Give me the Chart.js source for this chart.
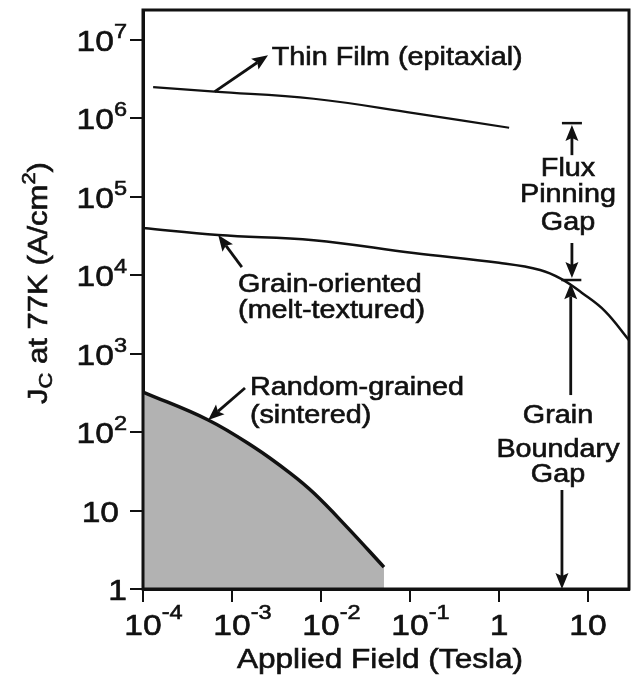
<!DOCTYPE html>
<html>
<head>
<meta charset="utf-8">
<script src="https://cdn.jsdelivr.net/npm/chart.js@4.4.0/dist/chart.umd.min.js"></script>
<style>
  html, body { margin: 0; background: #fff; }
  canvas { display: block; }
</style>
</head>
<body>
<canvas id="jcChart" width="634" height="683"></canvas>
<script>
// applied field (T) / critical current density (A/cm^2)
const thinFilmB = [1.3e-4, 6.4e-4, 8.3e-3, 0.11, 1.3];
const thinFilmJc = [2.5e6, 2.2e6, 1.78e6, 1.17e6, 7.6e5];

const grainOrientedB = [1e-4, 7e-4, 8.3e-3, 0.11, 1.0, 2.9, 5.0, 8.5, 15.5, 28.9];
const grainOrientedJc = [4.0e4, 3.25e4, 2.8e4, 1.92e4, 1.44e4, 1.17e4, 9.0e3, 6.0e3, 3.5e3, 1.49e3];

const randomB = [1e-4, 5.4e-4, 1.74e-3, 4.5e-3, 8.3e-3, 0.0195, 0.051];
const randomJc = [325, 143, 65, 30, 16.7, 6.2, 1.9];

// axis ticks: [base, exponent]
const xTicks = [1e-4, 1e-3, 1e-2, 1e-1, 1, 10];
const xTickLabels = [['10', '-4'], ['10', '-3'], ['10', '-2'], ['10', '-1'], ['1', ''], ['10', '']];
const yTicks = [1, 10, 1e2, 1e3, 1e4, 1e5, 1e6, 1e7];
const yTickLabels = [['1', ''], ['10', ''], ['10', '2'], ['10', '3'], ['10', '4'], ['10', '5'], ['10', '6'], ['10', '7']];

// annotations, in data units [field, Jc]
const arrows = [
  [[6.4e-4, 2.2e6], [2.54e-3, 6.4e6]],
  [[1.29e-3, 1.27e4], [7e-4, 3.25e4]],
  [[1.4e-3, 366], [5.4e-4, 143]],
  [[6.6, 3.4e5], [6.6, 8.25e5]],
  [[6.6, 2.58e4], [6.6, 9.2e3]],
  [[6.4, 297], [6.4, 7.9e3]],
  [[5.1, 18.3], [5.1, 1]]
];
const gapBars = [[6.6, 8.7e5], [6.5, 8.7e3]];
const notes = [
  ['Thin Film (epitaxial)', 2.8e-3, 4.8e6, 'left'],
  ['Grain-oriented', 1.17e-3, 6.1e3, 'left'],
  ['(melt-textured)', 1.17e-3, 2.85e3, 'left'],
  ['Random-grained', 1.59e-3, 298, 'left'],
  ['(sintered)', 1.59e-3, 131, 'left'],
  ['Flux', 5.96, 1.85e5, 'center'],
  ['Pinning', 5.96, 8.6e4, 'center'],
  ['Gap', 5.96, 3.8e4, 'center'],
  ['Grain', 4.6, 131, 'center'],
  ['Boundary', 4.6, 48, 'center'],
  ['Gap', 4.6, 23, 'center']
];

const FONT = '"Liberation Sans", Arial, Helvetica, sans-serif';
const INK = '#111';

const pts = (xs, ys) => xs.map((x, i) => ({ x: x, y: ys[i] }));

// draws [text, size, dy] pieces on one baseline, stretched a little sideways like the scan
function richText(ctx, parts, x, y, align, sx) {
  let total = 0;
  const widths = parts.map(p => {
    ctx.font = p[1] + 'px ' + FONT;
    const w = ctx.measureText(p[0]).width * sx;
    total += w;
    return w;
  });
  let cx = align === 'center' ? x - total / 2 : align === 'right' ? x - total : x;
  parts.forEach((p, i) => {
    ctx.save();
    ctx.font = p[1] + 'px ' + FONT;
    ctx.translate(cx, y + (p[2] || 0));
    ctx.scale(sx, 1);
    ctx.lineWidth = 0.6;
    ctx.fillText(p[0], 0, 0);
    ctx.strokeText(p[0], 0, 0);
    ctx.restore();
    cx += widths[i];
  });
}

function arrow(ctx, x1, y1, x2, y2) {
  const a = Math.atan2(y2 - y1, x2 - x1);
  const len = 16, half = 6.5;
  const bx = x2 - len * Math.cos(a), by = y2 - len * Math.sin(a);
  ctx.beginPath();
  ctx.moveTo(x1, y1);
  ctx.lineTo(bx + 3 * Math.cos(a), by + 3 * Math.sin(a));
  ctx.stroke();
  ctx.beginPath();
  ctx.moveTo(x2, y2);
  ctx.lineTo(bx + half * Math.sin(a), by - half * Math.cos(a));
  ctx.lineTo(bx + 3 * Math.cos(a), by + 3 * Math.sin(a));
  ctx.lineTo(bx - half * Math.sin(a), by + half * Math.cos(a));
  ctx.closePath();
  ctx.fill();
}

const decorations = {
  id: 'decorations',
  afterDraw(chart) {
    const { ctx, chartArea: area, scales: { x, y } } = chart;
    ctx.save();
    ctx.fillStyle = INK;
    ctx.strokeStyle = INK;
    ctx.textBaseline = 'alphabetic';

    // box round the plot
    ctx.lineWidth = 3;
    ctx.strokeRect(area.left, area.top, area.right - area.left, area.bottom - area.top);

    // tick labels with superscripts
    xTicks.forEach((v, i) => {
      const px = x.getPixelForValue(v);
      const [base, exp] = xTickLabels[i];
      ctx.font = '30px ' + FONT;
      const bw = ctx.measureText(base).width * 1.12;
      richText(ctx, [[base, 30, 0], [exp, 21, -16]], px - bw / 2, 635, 'left', 1.12);
    });
    yTicks.forEach((v, i) => {
      const py = y.getPixelForValue(v);
      const [base, exp] = yTickLabels[i];
      const right = (!exp && base === '10') ? 119 : 127;
      richText(ctx, [[base, 30, 0], [exp, 21, -13]], right, py + 11, 'right', 1.12);
    });

    // axis titles
    richText(ctx, [['Applied Field (Tesla)', 27, 0]], 380, 668, 'center', 1.17);
    ctx.save();
    ctx.translate(47, 283);
    ctx.rotate(-Math.PI / 2);
    richText(ctx, [['J', 27, 0], ['C', 19, 5], [' at 77K (A/cm', 27, 0], ['2', 19, -12], [')', 27, 0]], 0, 0, 'center', 1.15);
    ctx.restore();

    // arrows and gap markers
    ctx.lineWidth = 2.8;
    arrows.forEach(([from, to]) => {
      arrow(ctx, x.getPixelForValue(from[0]), y.getPixelForValue(from[1]),
        x.getPixelForValue(to[0]), y.getPixelForValue(to[1]));
    });
    ctx.lineWidth = 2.5;
    gapBars.forEach(([b, j]) => {
      const px = x.getPixelForValue(b), py = y.getPixelForValue(j);
      ctx.beginPath();
      ctx.moveTo(px - 10, py);
      ctx.lineTo(px + 10, py);
      ctx.stroke();
    });

    // curve labels
    notes.forEach(([text, b, j, align]) => {
      richText(ctx, [[text, 25, 0]], x.getPixelForValue(b), y.getPixelForValue(j), align, 1.15);
    });
    ctx.restore();
  }
};

const axisStyle = {
  type: 'logarithmic',
  ticks: { display: false },
  grid: { drawOnChartArea: false, drawTicks: true, tickLength: 13, lineWidth: 2, color: INK },
  border: { display: true, color: INK, width: 3 }
};

new Chart(document.getElementById('jcChart').getContext('2d'), {
  type: 'line',
  data: {
    datasets: [
      {
        label: 'Thin Film (epitaxial)',
        data: pts(thinFilmB, thinFilmJc),
        borderColor: INK,
        borderWidth: 2.2,
        pointRadius: 0,
        tension: 0.4,
        fill: false
      },
      {
        label: 'Grain-oriented (melt-textured)',
        data: pts(grainOrientedB, grainOrientedJc),
        borderColor: INK,
        borderWidth: 2.5,
        pointRadius: 0,
        tension: 0.4,
        fill: false
      },
      {
        label: 'Random-grained (sintered)',
        data: pts(randomB, randomJc),
        borderColor: INK,
        borderWidth: 3.5,
        pointRadius: 0,
        tension: 0.4,
        fill: 'start',
        backgroundColor: '#b2b2b2'
      }
    ]
  },
  options: {
    responsive: false,
    animation: false,
    layout: { padding: { top: 10, right: 5, left: 0, bottom: 0 } },
    plugins: { legend: { display: false }, tooltip: { enabled: false } },
    scales: {
      x: Object.assign({}, axisStyle, {
        min: 1e-4,
        max: 28.9,
        afterBuildTicks: s => { s.ticks = xTicks.map(v => ({ value: v })); },
        afterFit: s => { s.height = 94; }
      }),
      y: Object.assign({}, axisStyle, {
        min: 1,
        max: 2.41e7,
        afterBuildTicks: s => { s.ticks = yTicks.map(v => ({ value: v })); },
        afterFit: s => { s.width = 143; }
      })
    }
  },
  plugins: [decorations]
});
</script>
</body>
</html>
